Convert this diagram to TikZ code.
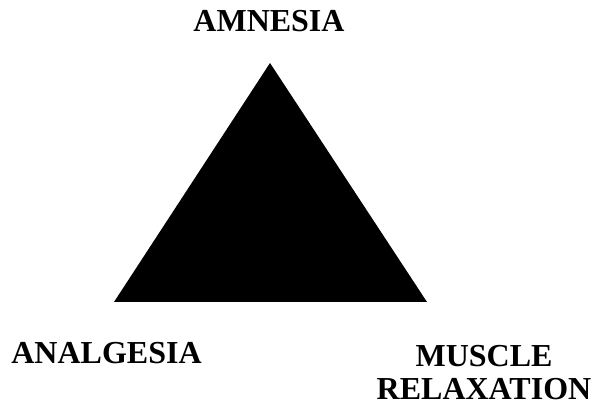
\documentclass[tikz,border=0pt]{standalone}
\usepackage{fontspec}
\setmainfont{Liberation Serif}
\usepackage{tikz}
\usetikzlibrary{positioning}

\begin{document}
\begin{tikzpicture}[
  x=1pt, y=1pt,
  lbl/.style={font=\fontsize{32}{33}\selectfont\bfseries, inner sep=0pt, anchor=base, align=center},
]
\useasboundingbox (0,0) rectangle (596,403);
% the triangle
\coordinate (top) at (270,340);
\coordinate (bl) at (114,101);
\coordinate (br) at (427,101);
\fill[black] (top) -- (bl) -- (br) -- cycle;
% labels
\node[lbl] (amn) at (269,371) {AMNESIA};
\node[lbl] (ana) at (106.5,39.5) {ANALGESIA};
\node[lbl] (mus) at (484,3.5) {MUSCLE\\RELAXATION};
\end{tikzpicture}
\end{document}
